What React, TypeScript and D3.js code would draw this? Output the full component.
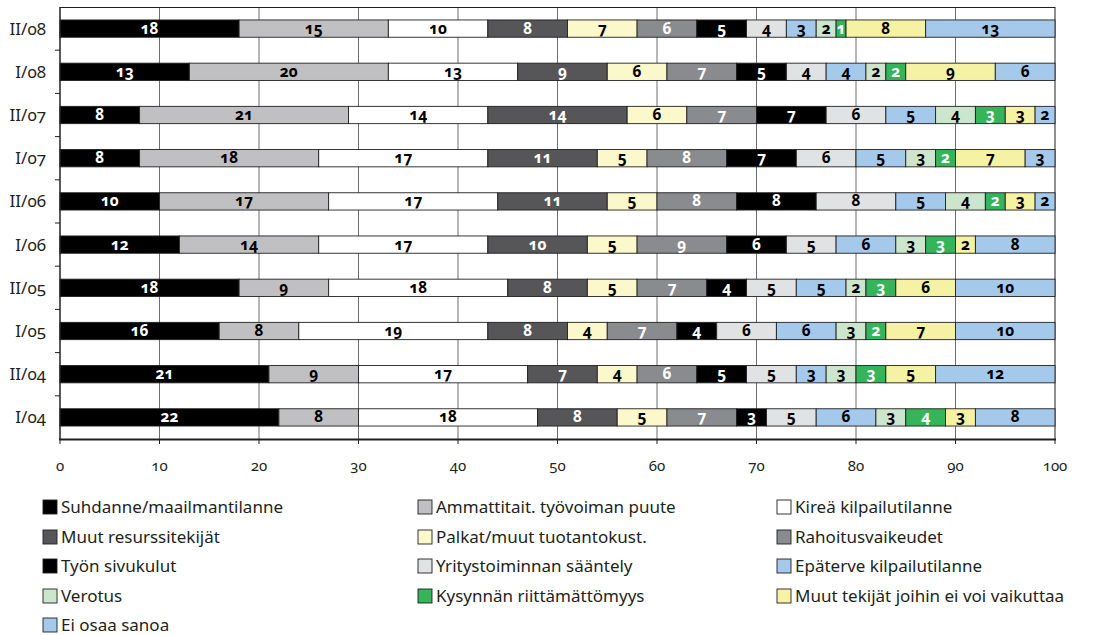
import React from 'react';
import * as d3 from 'd3';

// Half-year survey periods, top to bottom
const periods = ['II/08', 'I/08', 'II/07', 'I/07', 'II/06', 'I/06', 'II/05', 'I/05', 'II/04', 'I/04'];

// Share (%) of respondents per factor, in the same order as `periods`
const suhdanne = [18, 13, 8, 8, 10, 12, 18, 16, 21, 22];
const ammattitaito = [15, 20, 21, 18, 17, 14, 9, 8, 9, 8];
const kireaKilpailu = [10, 13, 14, 17, 17, 17, 18, 19, 17, 18];
const muutResurssit = [8, 9, 14, 11, 11, 10, 8, 8, 7, 8];
const palkat = [7, 6, 6, 5, 5, 5, 5, 4, 4, 5];
const rahoitus = [6, 7, 7, 8, 8, 9, 7, 7, 6, 7];
const sivukulut = [5, 5, 7, 7, 8, 6, 4, 4, 5, 3];
const saantely = [4, 4, 6, 6, 8, 5, 5, 6, 5, 5];
const epaterve = [3, 4, 5, 5, 5, 6, 5, 6, 3, 6];
const verotus = [2, 2, 4, 3, 4, 3, 2, 3, 3, 3];
const kysynta = [1, 2, 3, 2, 2, 3, 3, 2, 3, 4];
const muutTekijat = [8, 9, 3, 7, 3, 2, 6, 7, 5, 3];
const eiOsaa = [13, 6, 2, 3, 2, 8, 10, 10, 12, 8];

const factorNames = [
  'Suhdanne/maailmantilanne',
  'Ammattitait. työvoiman puute',
  'Kireä kilpailutilanne',
  'Muut resurssitekijät',
  'Palkat/muut tuotantokust.',
  'Rahoitusvaikeudet',
  'Työn sivukulut',
  'Yritystoiminnan sääntely',
  'Epäterve kilpailutilanne',
  'Verotus',
  'Kysynnän riittämättömyys',
  'Muut tekijät joihin ei voi vaikuttaa',
  'Ei osaa sanoa',
];

const factorValues = [
  suhdanne, ammattitaito, kireaKilpailu, muutResurssit, palkat, rahoitus,
  sivukulut, saantely, epaterve, verotus, kysynta, muutTekijat, eiOsaa,
];

const fills = [
  '#000000', '#c0c0c2', '#ffffff', '#565659', '#fbf8cb', '#8a8b8e',
  '#000000', '#e1e2e3', '#a4c9ea', '#cce6cd', '#35b459', '#f5f2a3', '#a4c9ea',
];
const labelFills = [
  '#ffffff', '#000000', '#000000', '#ffffff', '#000000', '#ffffff',
  '#ffffff', '#000000', '#000000', '#000000', '#ffffff', '#000000', '#000000',
];

const xTicks = [0, 10, 20, 30, 40, 50, 60, 70, 80, 90, 100];

const W = 1094;
const H = 635;
const left = 60;
const right = 1055;
const top = 7;
const bottom = 439;

const FONT = '"Noto Sans", "Open Sans", sans-serif';

export default function App() {
  const x = d3.scaleLinear().domain([0, 100]).range([left, right]);
  const y = d3
    .scaleBand<string>()
    .domain(periods)
    .range([top, bottom])
    .paddingInner(0.6)
    .paddingOuter(0.3);

  const rows = periods.map((p, i) => {
    const obj: Record<string, number | string> = { period: p };
    factorNames.forEach((f, k) => (obj[f] = factorValues[k][i]));
    return obj;
  });
  const stacked = d3.stack<Record<string, number | string>>().keys(factorNames)(rows as any);

  const step = y.step();
  const boundaries = d3.range(1, periods.length).map((k) => top + k * step);

  const legendCols = [43, 418, 777];
  const legendRows = [507, 537, 566, 596, 625];

  return (
    <svg
      width={W}
      height={H}
      style={{ position: 'absolute', left: 0, top: 0, background: '#fff' }}
      fontFamily={FONT}
    >
      {/* vertical gridlines */}
      {xTicks.slice(1, -1).map((t) => (
        <line key={t} x1={x(t)} x2={x(t)} y1={top} y2={bottom} stroke="#6d6e70" strokeWidth={1} />
      ))}
      {/* frame top/right */}
      <line x1={left} x2={right} y1={top + 0.5} y2={top + 0.5} stroke="#231f20" strokeWidth={1} />
      <line x1={right} x2={right} y1={top} y2={bottom} stroke="#231f20" strokeWidth={1} />

      {/* stacked bars */}
      {stacked.map((layer, k) => (
        <g key={layer.key}>
          {layer.map((d, i) => {
            const x0 = x(d[0]);
            const x1 = x(d[1]);
            const by = y(periods[i])!;
            const bh = y.bandwidth();
            const v = d[1] - d[0];
            return (
              <g key={i}>
                <rect x={x0} y={by} width={x1 - x0} height={bh} fill={fills[k]} stroke="#231f20" strokeWidth={0.9} />
                <text
                  x={(x0 + x1) / 2}
                  y={by + bh / 2 + 5}
                  textAnchor="middle"
                  fontSize={15.5}
                  fontWeight={700}
                  fill={labelFills[k]}
                  style={{ fontVariantNumeric: 'oldstyle-nums' }}
                >
                  {v}
                </text>
              </g>
            );
          })}
        </g>
      ))}

      {/* left axis */}
      <line x1={left} x2={left} y1={top} y2={bottom} stroke="#231f20" strokeWidth={1.5} />
      {boundaries.map((b, i) => (
        <line key={i} x1={left - 5} x2={left} y1={b} y2={b} stroke="#231f20" strokeWidth={1} />
      ))}
      {periods.map((p) => (
        <text
          key={p}
          x={46}
          y={y(p)! + y.bandwidth() / 2 + 6}
          textAnchor="end"
          fontSize={17}
          fill="#231f20"
          style={{ fontVariantNumeric: 'oldstyle-nums' }}
        >
          {p}
        </text>
      ))}

      {/* bottom axis */}
      <line x1={left - 1} x2={right + 1} y1={bottom + 0.5} y2={bottom + 0.5} stroke="#231f20" strokeWidth={2} />
      {xTicks.map((t) => (
        <g key={t}>
          <line x1={x(t)} x2={x(t)} y1={bottom} y2={bottom + 5} stroke="#231f20" strokeWidth={1} />
          <text
            x={x(t)}
            y={bottom + 32}
            textAnchor="middle"
            fontSize={15}
            fill="#231f20"
            style={{ fontVariantNumeric: 'oldstyle-nums' }}
          >
            {t}
          </text>
        </g>
      ))}

      {/* legend, three columns */}
      {factorNames.map((f, k) => {
        const col = k % 3;
        const row = Math.floor(k / 3);
        const lx = legendCols[col];
        const ly = legendRows[row];
        return (
          <g key={f}>
            <rect x={lx} y={ly - 7} width={14} height={14} fill={fills[k]} stroke="#231f20" strokeWidth={0.9} />
            <text x={lx + 18} y={ly + 6} fontSize={17} fill="#231f20">
              {f}
            </text>
          </g>
        );
      })}
    </svg>
  );
}
